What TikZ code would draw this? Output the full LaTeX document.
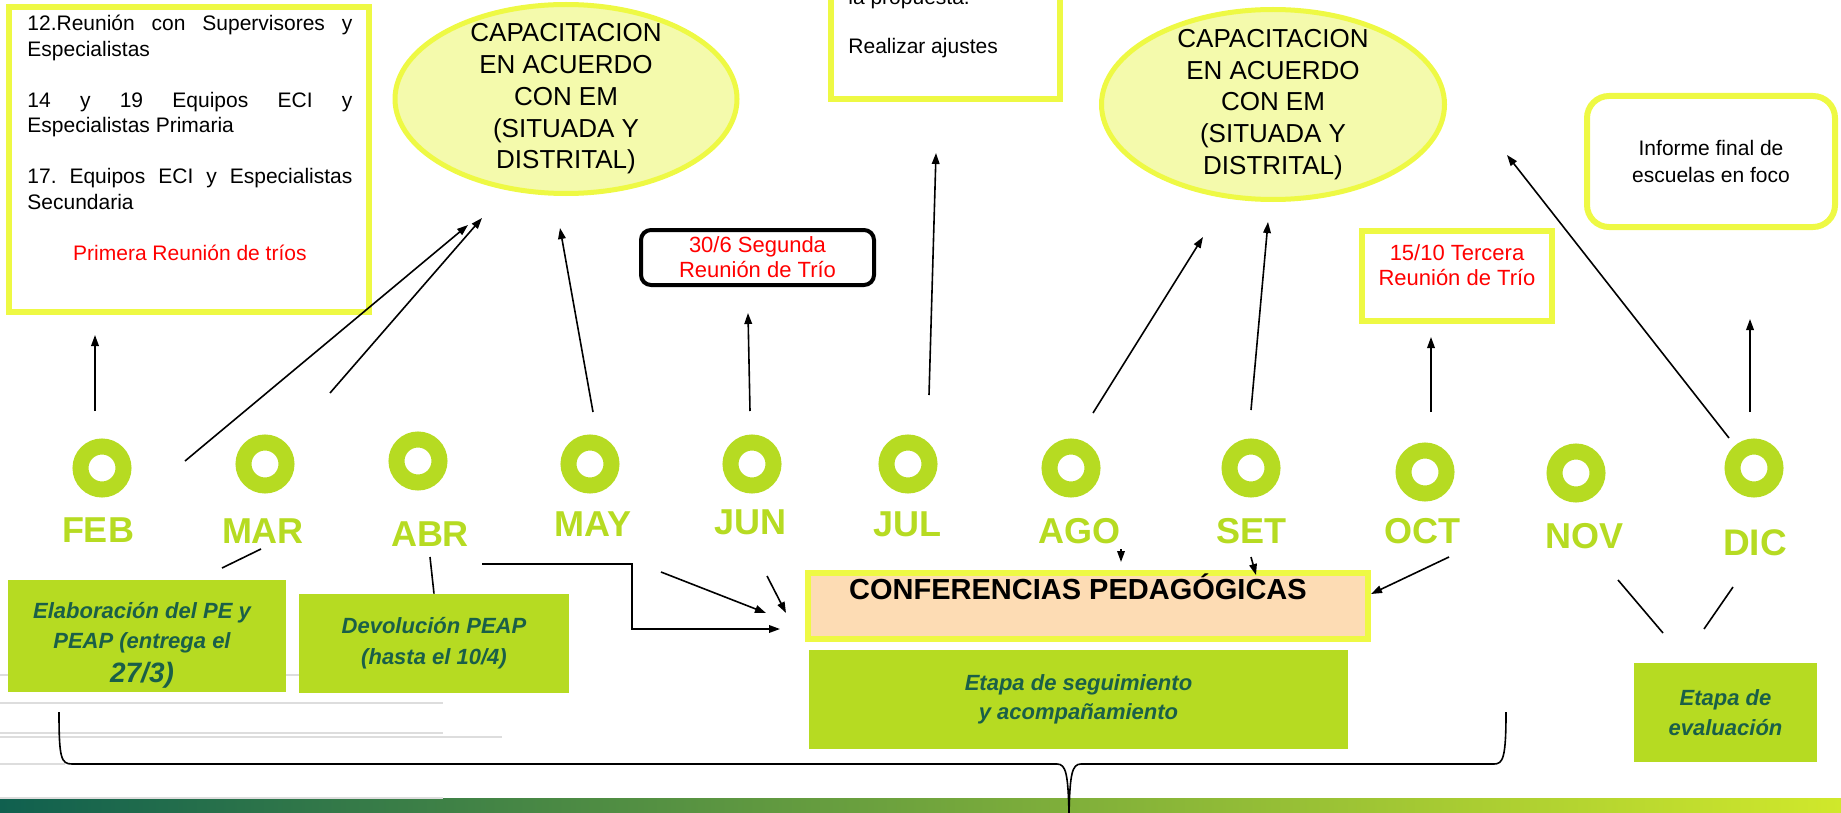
\documentclass[tikz,border=0pt]{standalone}
\usepackage{fontspec}
\setmainfont{Liberation Sans}
\usepackage{xcolor}
\definecolor{Lemon}{HTML}{EEF944}
\definecolor{Cream}{HTML}{F4FAAC}
\definecolor{Lime}{HTML}{B6DB22}
\definecolor{Pine}{HTML}{1A5F48}
\definecolor{Peach}{HTML}{FDDCB4}
\definecolor{Mist}{HTML}{DDDDDD}
\definecolor{Teal}{HTML}{10604F}
\definecolor{Spring}{HTML}{D0E82B}
\usepackage{tikz}
\usetikzlibrary{arrows.meta,shapes.geometric}
\setlength{\parindent}{0pt}
\frenchspacing

\begin{document}
\begin{tikzpicture}[x=0.5pt,y=-0.5pt,
  arr/.style={-{Triangle[length=5.5pt,width=3.8pt]},line width=0.8pt},
  link/.style={line width=0.8pt},
  yellowbox/.style={draw=Lemon,line width=3pt,inner sep=0pt},
  capa/.style={ellipse,draw=Lemon,fill=Cream,line width=2.5pt,inner sep=0pt},
  capatxt/.style={align=center,font=\fontsize{13}{15.9}\selectfont,inner sep=0pt},
  ring/.style={circle,draw=Lime,line width=8pt,minimum size=21.5pt,inner sep=0pt},
  month/.style={anchor=base,text=Lime,font=\fontsize{18}{18}\selectfont\bfseries,inner sep=0pt},
  stage/.style={fill=Lime,text=Pine,align=center,font=\fontsize{11}{15}\selectfont\bfseries\itshape,inner sep=0pt},
  trio/.style={text=red,align=center,font=\fontsize{11}{12.5}\selectfont,inner sep=0pt},
  body/.style={font=\fontsize{10.5}{12.75}\selectfont,inner sep=0pt}]
\useasboundingbox (0,0) rectangle (1841,813);
\clip (0,0) rectangle (1841,813);

\shade[left color=Teal,right color=Spring] (0,798) rectangle (1841,813);
\draw[Mist,line width=1pt] (0,675)--(300,675) (0,703)--(443,703) (0,733)--(443,733)
  (0,737)--(502,737) (0,764)--(65,764) (0,798)--(443,798);

\node[yellowbox,minimum width=180pt,minimum height=152.5pt] (febbox) at (189,159.5) {};
\node[body,anchor=north west,text width=162.5pt,align=justify] (febtxt) at (27,15)
  {12.Reunión con Supervisores y\linebreak Especialistas\par\vspace{12.75pt}%
   14 y 19 Equipos ECI y\linebreak Especialistas Primaria\par\vspace{12.75pt}%
   17. Equipos ECI y Especialistas\linebreak Secundaria\par\vspace{12.75pt}%
   {\centering\color{red}Primera Reunión de tríos\par}};

\node[capa,minimum width=171pt,minimum height=94.5pt] (capa1) at (566,99) {};
\node[capatxt] (capa1txt) at (capa1) {CAPACITACION\\EN ACUERDO\\CON EM\\(SITUADA Y\\DISTRITAL)};
\node[capa,minimum width=171.5pt,minimum height=95pt] (capa2) at (1273,104.5) {};
\node[capatxt] (capa2txt) at (capa2) {CAPACITACION\\EN ACUERDO\\CON EM\\(SITUADA Y\\DISTRITAL)};

\node[yellowbox,minimum width=114.5pt,minimum height=80pt] (propbox) at (945.5,19) {};
\node[body,anchor=north west,align=left] (proptxt) at (848,-11) {la propuesta.\\[11.75pt]Realizar ajustes};

\node[draw,line width=2pt,rounded corners=5pt,minimum width=116.5pt,minimum height=27.5pt,trio] (segunda) at (757.5,257.5) {30/6 Segunda\\Reunión de Trío};
\node[yellowbox,minimum width=95pt,minimum height=45pt] (terbox) at (1457,276) {};
\node[trio,anchor=north] (tertxt) at (1457,244) {15/10 Tercera\\Reunión de Trío};
\node[yellowbox,rounded corners=11pt,minimum width=124pt,minimum height=65.5pt,align=center,
  font=\fontsize{10.5}{13.5}\selectfont] (informe) at (1711,161.5) {Informe final de\\escuelas en foco};

\foreach \m/\rx/\ry/\lx/\ly in {FEB/102/468/98/542,MAR/265/464/263/543,ABR/418/461/430/546,
  MAY/590/464/593/536,JUN/752/464/750/534,JUL/908/464/907/536,AGO/1071/468/1079/543,
  SET/1251/468/1251/543,OCT/1425/472/1422/543,NOV/1576/473/1584/548}{
  \node[ring] (r\m) at (\rx,\ry) {};
  \node[month] (l\m) at (\lx,\ly) {\m};
}
\node[ring] (rDIC) at (1754,468) {};
\node[month,font=\fontsize{18.5}{18.5}\selectfont\bfseries] (lDIC) at (1755,555) {DIC};

\node[yellowbox,fill=Peach,minimum width=280pt,minimum height=33pt] (conf) at (1088,606) {};
\node[anchor=base,font=\fontsize{14.5}{14.5}\selectfont\bfseries,inner sep=0pt] (conftxt) at (1078,599) {CONFERENCIAS PEDAGÓGICAS};

\node[stage,minimum width=139pt,minimum height=56pt] (elab) at (147,636) {};
\node[stage,fill=none] (elabtxt) at (142,645) {Elaboración del PE y\\PEAP (entrega el\\[2pt]{\fontsize{14}{15}\selectfont 27/3)}};
\node[stage,minimum width=135pt,minimum height=49.5pt] (devo) at (434,643.5) {Devolución PEAP\\[0.5pt](hasta el 10/4)};
\node[stage,minimum width=269.5pt,minimum height=49.5pt] (segui) at (1078.5,699.5) {Etapa de seguimiento\\[-0.5pt]y acompañamiento};
\node[stage,minimum width=91.5pt,minimum height=49.5pt] (eval) at (1725.5,712.5) {Etapa de\\evaluación};

\draw[line width=0.8pt] (59,712) .. controls (59,758) and (61,764) .. (72,764) -- (1057,764)
  .. controls (1066,764) and (1068,774) .. (1069,813);
\draw[line width=0.8pt] (1506,712) .. controls (1506,758) and (1503,764) .. (1494,764) -- (1081,764)
  .. controls (1072,764) and (1070,774) .. (1069,813);

\coordinate (febU) at (95,411);   \coordinate (febH) at (95,335);
\coordinate (febS) at (185,461);  \coordinate (capA) at (468,225);
\coordinate (marS) at (330,393);  \coordinate (capB) at (482,218);
\coordinate (mayS) at (593,412);  \coordinate (capC) at (560,228);
\coordinate (junS) at (750,411);  \coordinate (segH) at (748,313);
\coordinate (julS) at (929,395);  \coordinate (propH) at (936,153);
\coordinate (agoS) at (1093,413); \coordinate (capD) at (1203,237);
\coordinate (setS) at (1251,410); \coordinate (capE) at (1268,222);
\coordinate (octS) at (1431,412); \coordinate (terH) at (1431,337);
\coordinate (dicS) at (1729,438); \coordinate (capF) at (1507,155);
\coordinate (dicU) at (1750,412); \coordinate (infH) at (1750,319);
\foreach \a/\b in {febU/febH,febS/capA,marS/capB,mayS/capC,junS/segH,julS/propH,
  agoS/capD,setS/capE,octS/terH,dicS/capF,dicU/infH}{
  \draw[arr] (\a) -- (\b);
}

\coordinate (marL) at (261,549);  \coordinate (elabT) at (222,568);
\coordinate (abrL) at (430,557);
\coordinate (abrE) at (482,564);  \coordinate (bend) at (632,629); \coordinate (confW) at (780,629);
\coordinate (mayL) at (661,572);  \coordinate (confA) at (766,613);
\coordinate (junL) at (767,576);  \coordinate (confB) at (786,613);
\coordinate (agoL) at (1121,549); \coordinate (confC) at (1121,562);
\coordinate (setL) at (1251,557); \coordinate (confD) at (1256,575);
\coordinate (octL) at (1449,557); \coordinate (confE) at (1371,594);
\coordinate (novL) at (1618,580); \coordinate (evalA) at (1663,633);
\coordinate (dicL) at (1733,587); \coordinate (evalB) at (1704,629);
\draw[link] (marL) -- (elabT) (abrL) -- (devo.north) (novL) -- (evalA) (dicL) -- (evalB);
\draw[arr] (abrE) -| (bend) -- (confW);
\foreach \a/\b in {mayL/confA,junL/confB,agoL/confC,setL/confD,octL/confE}{
  \draw[arr] (\a) -- (\b);
}
\end{tikzpicture}
\end{document}
